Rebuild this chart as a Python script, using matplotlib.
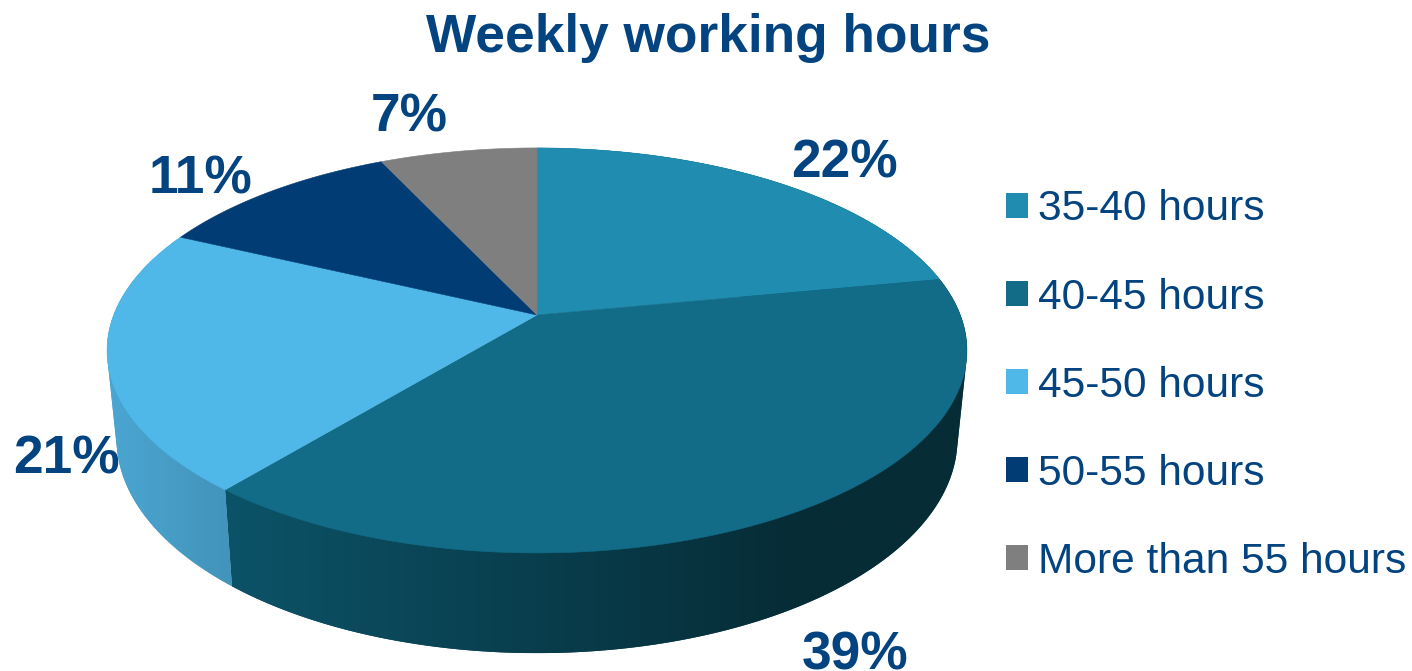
import numpy as np
import matplotlib
matplotlib.use("Agg")
import matplotlib.pyplot as plt
from matplotlib.patches import Polygon, Patch
from matplotlib.colors import to_rgb

categories = ["35-40 hours", "40-45 hours", "45-50 hours", "50-55 hours", "More than 55 hours"]
shares = [22, 39, 21, 11, 7]
title = "Weekly working hours"

top_colors = ["#1F8CB0", "#126B87", "#4FB8E8", "#023C75", "#7F7F7F"]
side_left = ["#1A7A9A", "#0C5368", "#4BA6D2", "#023060", "#6A6A6A"]
side_right = ["#0A3A4A", "#062C36", "#4294BA", "#01264A", "#505050"]
text_color = "#03437F"
label_pos = [(844, 178), (855, 669), (66, 474), (201, 194), (409, 132)]

plt.rcParams["font.family"] = ["Liberation Sans", "DejaVu Sans"]
fig = plt.figure(figsize=(14.12, 6.71), dpi=100)
ax = fig.add_axes([0, 0, 1, 1])
ax.axis("off")

CX, CY, K = 537.0, 315.0, 0.175


def top_pt(t):
    u, v = np.sin(t), np.cos(t)
    d = 1 + K * v
    return CX + 423.3 * u / d, CY - 196.3 * v / d


def bottom_pt(t):
    u, v = np.sin(t), np.cos(t)
    d = 1 + K * v
    return CX + 414.0 * u / d, 401 - 208.0 * v / d


def convex_hull(points):
    pts = sorted(set(map(tuple, points)))

    def half(seq):
        out = []
        for p in seq:
            while len(out) > 1 and ((out[-1][0] - out[-2][0]) * (p[1] - out[-2][1])
                                    - (out[-1][1] - out[-2][1]) * (p[0] - out[-2][0])) <= 0:
                out.pop()
            out.append(p)
        return out[:-1]

    return np.array(half(pts) + half(pts[::-1]))


edges = np.cumsum([0] + shares) / sum(shares) * 2 * np.pi

# Extruded sides: each wedge's side is a horizontal gradient clipped to its outline
for i in range(len(shares)):
    ts = np.linspace(edges[i], edges[i + 1], 300)
    tx, ty = top_pt(ts)
    bx, by = bottom_pt(ts)
    if not (np.cos(ts) < 0.35).any():
        continue
    hull = convex_hull(np.vstack([np.column_stack([tx, ty]), np.column_stack([bx, by])]))
    c0, c1 = np.array(to_rgb(side_left[i])), np.array(to_rgb(side_right[i]))
    x0, x1 = hull[:, 0].min(), hull[:, 0].max()
    xs = np.linspace(x0, x1, 256)
    stop = min(x1, 800)
    f = np.clip((xs - x0) / max(stop - x0, 1), 0, 1)[:, None]
    grad = (c0 + (c1 - c0) * f)[None, :, :]
    base = Polygon(hull, closed=True, facecolor=(c0 + c1) / 2, edgecolor="none", zorder=3)
    ax.add_patch(base)
    im = ax.imshow(grad, extent=(x0, x1, hull[:, 1].max(), hull[:, 1].min()), aspect="auto",
                   interpolation="bilinear", zorder=3)
    im.set_clip_path(base)

ax.set_xlim(0, 1412)
ax.set_ylim(671, 0)

# Top face
for i in range(len(shares)):
    ts = np.linspace(edges[i], edges[i + 1], 200)
    tx, ty = top_pt(ts)
    pts = np.vstack([[CX, CY], np.column_stack([tx, ty])])
    ax.add_patch(Polygon(pts, closed=True, facecolor=top_colors[i], edgecolor=top_colors[i],
                         linewidth=0.4, zorder=4))

# Data labels (the pie body overlaps them)
for v, (x, y) in zip(shares, label_pos):
    ax.text(x, y, f"{v}%", ha="center", va="baseline", fontsize=38.3, fontweight="bold",
            color=text_color, zorder=2)

ax.text(708.5, 52, title, ha="center", va="baseline", fontsize=38.3, fontweight="bold", color=text_color)

handles = [Patch(facecolor=c, edgecolor="none") for c in top_colors]
leg = ax.legend(handles, categories, loc="upper left", bbox_to_anchor=(1006 / 1412, 1 - 189.5 / 671),
                frameon=False, fontsize=30.6, labelcolor=text_color, handlelength=0.52, handleheight=0.52,
                handletextpad=0.235, labelspacing=1.13, borderpad=0, borderaxespad=0)

fig.savefig("out.png", dpi=100, facecolor="white")
